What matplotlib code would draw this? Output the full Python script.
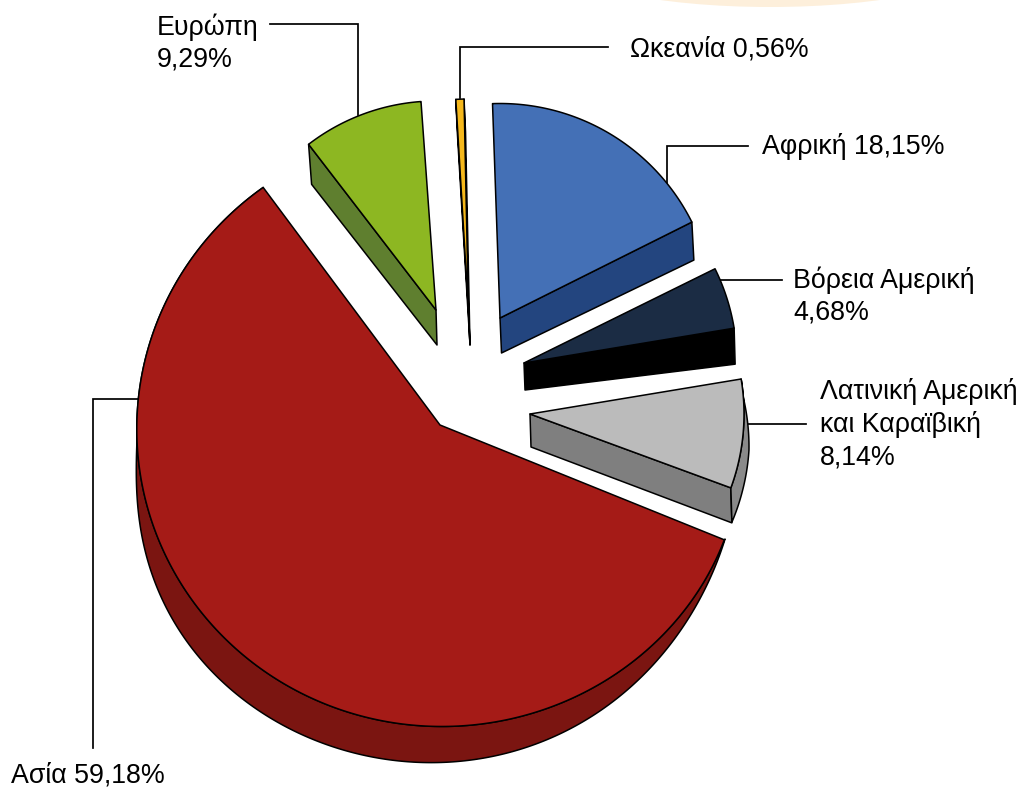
import numpy as np
import matplotlib
matplotlib.use("Agg")
import matplotlib.pyplot as plt
from matplotlib.patches import Polygon, Ellipse

# ---- data ----
regions = ["Αφρική", "Βόρεια Αμερική", "Λατινική Αμερική και Καραϊβική", "Ασία", "Ευρώπη", "Ωκεανία"]
shares = [18.15, 4.68, 8.14, 59.18, 9.29, 0.56]
label_texts = ["Αφρική 18,15%", "Βόρεια Αμερική\n4,68%", "Λατινική Αμερική\nκαι Καραϊβική\n8,14%",
               "Ασία 59,18%", "Ευρώπη\n9,29%", "Ωκεανία 0,56%"]

# ---- layout and style (pixel space of the figure) ----
START = -1.6
top_cols = ["#4470B6", "#1B2C44", "#BBBBBB", "#A51B17", "#8DB722", "#F5B81C"]
wall_cols = ["#23457F", "#000000", "#7F7F7F", "#7B1511", "#5F7F2F", "#7A5A10"]
apexes = [(500, 318), (524, 363), (530, 414), (440, 425), (436, 310), (468.5, 312)]
radii = [214.5, 213, 214, None, 209, 213]
# perspective correction of the drawn start and end angles, in degrees
angle_adj = [(-0.4, -0.3), (0, 0), (0.0, 0.3), (2.1, 0.4), (-0.5, -0.5), (0.2, 0.4)]
# wall: (which edges, apex offset, rim offset)
walls = [("e", (1.5, 35), (2, 38)), ("e", (1, 27), (1, 36)), ("e", (1, 33), (1, 35)),
         ("", None, None), ("s", (1, 35), (3, 40)), ("se", (1.5, 33), (1.5, 33))]
asia_r_ang = [110, 120, 135, 141, 152, 180, 200, 224, 235, 270, 275, 281, 289, 297, 307, 315, 324]
asia_r_val = [306.5, 306.5, 307, 305, 303, 302, 301.5, 302.7, 303.5, 303, 303, 302.6, 301.4, 299, 298.4, 298, 295.8]
asia_s_ang = [105.4, 111.8, 122, 130.6, 139.8, 150, 180, 200.6, 211, 222.5, 238.4, 247, 256.7, 270.6, 277]
asia_s_val = [297.7, 296.8, 296.8, 296.4, 297.3, 299.7, 302, 306.6, 306.8, 308, 311, 309, 303.2, 303, 302]
asia_s_center = (438, 460)
latam_s_center = (531, 447)
latam_s_ang = [76.7, 90.8, 101.5, 110.5]
latam_s_val = [218, 218, 216, 214.5]
latam_s_col = "#8A8A8A"

leaders = [([748, 667, 667], [146, 146, 184]),
           ([782, 720], [280, 280]),
           ([806, 746], [424, 424]),
           ([93, 93, 138], [748, 399, 399]),
           ([270, 358, 358], [24, 24, 115]),
           ([608, 460, 460], [47, 47, 98])]
label_xy = [(762, 146), (793, 296), (820, 424), (11, 775), (157, 43), (630, 49)]


def unit(deg):
    t = np.radians(deg)
    return np.sin(t), -np.cos(t)


def smooth_radius(ang, val, query, deg=7):
    mid, half = np.mean(ang), np.ptp(ang) / 2
    c = np.polyfit((np.asarray(ang) - mid) / half, val, deg)
    return np.polyval(c, (query - mid) / half)


fig = plt.figure(figsize=(10.22, 7.87), dpi=100)
ax = fig.add_axes([0, 0, 1, 1])
ax.set_xlim(0, 1022)
ax.set_ylim(787, 0)
ax.axis("off")

ax.add_patch(Ellipse((770, -40), 418, 94, fc="#FDEFDB", ec="none", zorder=0))

for xs, ys in leaders:
    ax.plot(xs, ys, color="black", lw=1.25, zorder=1, solid_joinstyle="miter")

EDGE = dict(ec="black", lw=1.1, joinstyle="round", zorder=3)

angle = START
for i, share in enumerate(shares):
    a0, a1 = angle + angle_adj[i][0], angle + share * 3.6 + angle_adj[i][1]
    angle += share * 3.6
    ax0, ay0 = apexes[i]
    th = np.linspace(a0, a1, 240)
    ux, uy = unit(th)
    r = smooth_radius(asia_r_ang, asia_r_val, th) if radii[i] is None else radii[i]
    rim = np.column_stack([ax0 + r * ux, ay0 + r * uy])
    # side walls
    which, ao, ro = walls[i]
    for edge in which:
        p = rim[0] if edge == "s" else rim[-1]
        ax.add_patch(Polygon([(ax0, ay0), tuple(p), (p[0] + ro[0], p[1] + ro[1]),
                              (ax0 + ao[0], ay0 + ao[1])], fc=wall_cols[i], **EDGE))
    # outer curved side
    if regions[i] == "Ασία":
        t2 = np.linspace(asia_s_ang[0], asia_s_ang[-1], 300)
        vx, vy = unit(t2)
        rr = smooth_radius(asia_s_ang, asia_s_val, t2)
        low = np.column_stack([asia_s_center[0] + rr * vx, asia_s_center[1] + rr * vy])
        ax.add_patch(Polygon(np.vstack([rim, low[::-1]]), fc=wall_cols[i], **EDGE))
    elif i == 2:
        t2 = np.linspace(latam_s_ang[0], latam_s_ang[-1], 80)
        vx, vy = unit(t2)
        rr = np.interp(t2, latam_s_ang, latam_s_val)
        low = np.column_stack([latam_s_center[0] + rr * vx, latam_s_center[1] + rr * vy])
        ax.add_patch(Polygon(np.vstack([rim, low[::-1]]), fc=latam_s_col, **EDGE))
    # top face
    ax.add_patch(Polygon(np.vstack([[(ax0, ay0)], rim]), fc=top_cols[i], ec="black", lw=1.1,
                         joinstyle="round", zorder=4))

for (x, y), s in zip(label_xy, label_texts):
    ax.text(x, y, s, family="Liberation Sans", fontsize=19.3, color="black", ha="left",
            va="center", linespacing=1.31, zorder=5)

fig.savefig("out.png", dpi=100, facecolor="white")
